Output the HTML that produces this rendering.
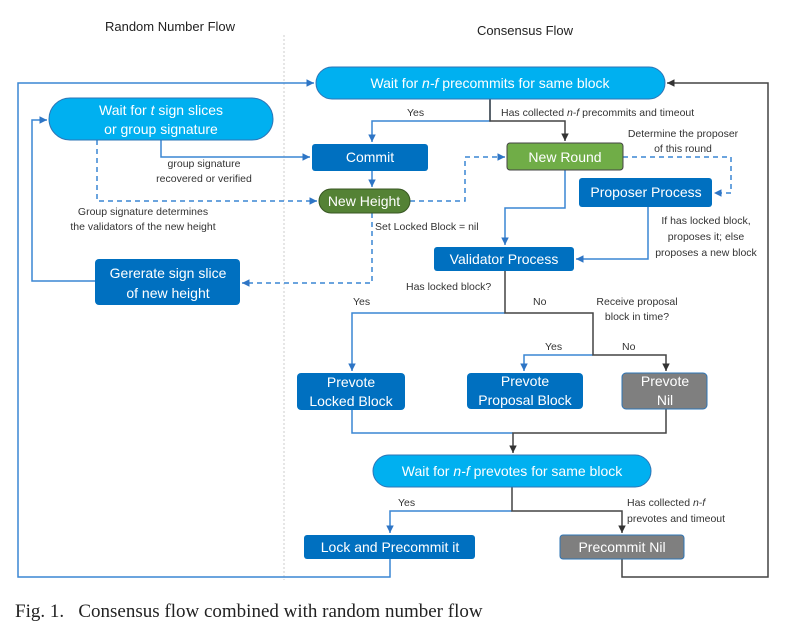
<!DOCTYPE html>
<html><head><meta charset="utf-8"><style>
body{margin:0;background:#fff;}
svg{display:block;font-family:"Liberation Sans",sans-serif;}
.l{font-size:10.5px;fill:#333;}
.b{font-size:14px;fill:#fff;text-anchor:middle;}
</style></head><body>
<svg width="804" height="635" viewBox="0 0 804 635">
<defs>
<marker id="ab" markerWidth="6" markerHeight="6" refX="5" refY="3" orient="auto"><path d="M0,0.5 L5,3 L0,5.5z" fill="#2e75c5"/></marker>
<marker id="ak" markerWidth="6" markerHeight="6" refX="5" refY="3" orient="auto"><path d="M0,0.5 L5,3 L0,5.5z" fill="#333"/></marker>
</defs>
<text x="170" y="31" font-size="13" text-anchor="middle" fill="#222">Random Number Flow</text>
<text x="525" y="35" font-size="13" text-anchor="middle" fill="#222">Consensus Flow</text>
<line x1="284" y1="35" x2="284" y2="580" stroke="#ccc" stroke-dasharray="2,2"/>

<g fill="none" stroke-width="1.5">
<!-- blue solid -->
<g stroke="#3a86d4">
<path d="M390,559 V577 H18 V83 H314" marker-end="url(#ab)"/>
<path d="M490,99 V121 H372 V142" marker-end="url(#ab)"/>
<path d="M372,171 V187" marker-end="url(#ab)"/>
<path d="M161,140 V157 H310" marker-end="url(#ab)"/>
<path d="M95,281 H32 V120 H47" marker-end="url(#ab)"/>
<path d="M565,170 V208 H505 V245" marker-end="url(#ab)"/>
<path d="M648,207 V259 H576" marker-end="url(#ab)"/>
<path d="M505,313 H352 V371" marker-end="url(#ab)"/>
<path d="M593,355 H524 V371" marker-end="url(#ab)"/>
<path d="M352,410 V433 H513"/>
<path d="M512,511 H390 V533" marker-end="url(#ab)"/>
</g>
<g stroke="#3a86d4" stroke-dasharray="5,4">
<path d="M97,140 V201 H317" marker-end="url(#ab)"/>
<path d="M372,213 V283 H242" marker-end="url(#ab)"/>
<path d="M410,201 H465 V157 H505" marker-end="url(#ab)"/>
<path d="M623,157 H731 V193 H714" marker-end="url(#ab)"/>
</g>
<g stroke="#444">
<path d="M490,99 V121 H565 V141" marker-end="url(#ak)"/>
<path d="M505,271 V313 H593 V355 H666 V371" marker-end="url(#ak)"/>
<path d="M666,409 V433 H513 V453" marker-end="url(#ak)"/>
<path d="M512,487 V511 H622 V533" marker-end="url(#ak)"/>
<path d="M622,559 V577 H768 V83 H667" marker-end="url(#ak)"/>
</g>
</g>

<!-- boxes -->
<rect x="316" y="67" width="349" height="32" rx="16" fill="#00b0f0" stroke="#2e75b6"/>
<text class="b" x="490" y="88">Wait for <tspan font-style="italic">n-f</tspan> precommits for same block</text>
<rect x="49" y="98" width="224" height="42" rx="21" fill="#00b0f0" stroke="#2e75b6"/>
<text class="b" x="161" y="115">Wait for <tspan font-style="italic">t</tspan> sign slices</text>
<text class="b" x="161" y="134">or group signature</text>
<rect x="312" y="144" width="116" height="27" rx="3" fill="#0070c0"/>
<text class="b" x="370" y="162">Commit</text>
<rect x="319" y="189" width="91" height="24" rx="12" fill="#548235" stroke="#385723"/>
<text class="b" x="364" y="206">New Height</text>
<rect x="507" y="143" width="116" height="27" rx="3" fill="#70ad47" stroke="#444"/>
<text class="b" x="565" y="162">New Round</text>
<rect x="579" y="178" width="133" height="29" rx="3" fill="#0070c0"/>
<text class="b" x="646" y="197">Proposer Process</text>
<rect x="95" y="259" width="145" height="46" rx="4" fill="#0070c0"/>
<text class="b" x="168" y="278">Gererate sign slice</text>
<text class="b" x="168" y="298">of new height</text>
<rect x="434" y="247" width="140" height="24" rx="3" fill="#0070c0"/>
<text class="b" x="504" y="264">Validator Process</text>
<rect x="297" y="373" width="108" height="37" rx="4" fill="#0070c0"/>
<text class="b" x="351" y="387">Prevote</text><text class="b" x="351" y="406">Locked Block</text>
<rect x="467" y="373" width="116" height="36" rx="4" fill="#0070c0"/>
<text class="b" x="525" y="386">Prevote</text><text class="b" x="525" y="405">Proposal Block</text>
<rect x="622" y="373" width="85" height="36" rx="4" fill="#7f7f7f" stroke="#2e75b6"/>
<text class="b" x="665" y="386">Prevote</text><text class="b" x="665" y="405">Nil</text>
<rect x="373" y="455" width="278" height="32" rx="16" fill="#00b0f0" stroke="#2e75b6"/>
<text class="b" x="512" y="476">Wait for <tspan font-style="italic">n-f</tspan> prevotes for same block</text>
<rect x="304" y="535" width="171" height="24" rx="3" fill="#0070c0"/>
<text class="b" x="390" y="552">Lock and Precommit it</text>
<rect x="560" y="535" width="124" height="24" rx="3" fill="#7f7f7f" stroke="#2e75b6"/>
<text class="b" x="622" y="552">Precommit Nil</text>

<!-- labels -->
<text class="l" x="407" y="116">Yes</text>
<text class="l" x="501" y="116">Has collected <tspan font-style="italic">n-f</tspan> precommits and timeout</text>
<g text-anchor="middle">
<text class="l" x="683" y="137">Determine the proposer</text>
<text class="l" x="683" y="152">of this round</text>
<text class="l" x="204" y="167">group signature</text>
<text class="l" x="204" y="182">recovered or verified</text>
<text class="l" x="143" y="215">Group signature determines</text>
<text class="l" x="143" y="230">the validators of the new height</text>
<text class="l" x="706" y="224">If has locked block,</text>
<text class="l" x="706" y="240">proposes it; else</text>
<text class="l" x="706" y="256">proposes a new block</text>
<text class="l" x="637" y="305">Receive proposal</text>
<text class="l" x="637" y="320">block in time?</text>
</g>
<text class="l" x="375" y="230">Set Locked Block = nil</text>
<text class="l" x="406" y="290">Has locked block?</text>
<text class="l" x="353" y="305">Yes</text>
<text class="l" x="533" y="305">No</text>
<text class="l" x="545" y="350">Yes</text>
<text class="l" x="622" y="350">No</text>
<text class="l" x="398" y="506">Yes</text>
<text class="l" x="627" y="506">Has collected <tspan font-style="italic">n-f</tspan></text>
<text class="l" x="627" y="522">prevotes and timeout</text>

<text x="15" y="617" font-family="Liberation Serif,serif" font-size="19" fill="#222" xml:space="preserve">Fig. 1.   Consensus flow combined with random number flow</text>
</svg>
</body></html>
